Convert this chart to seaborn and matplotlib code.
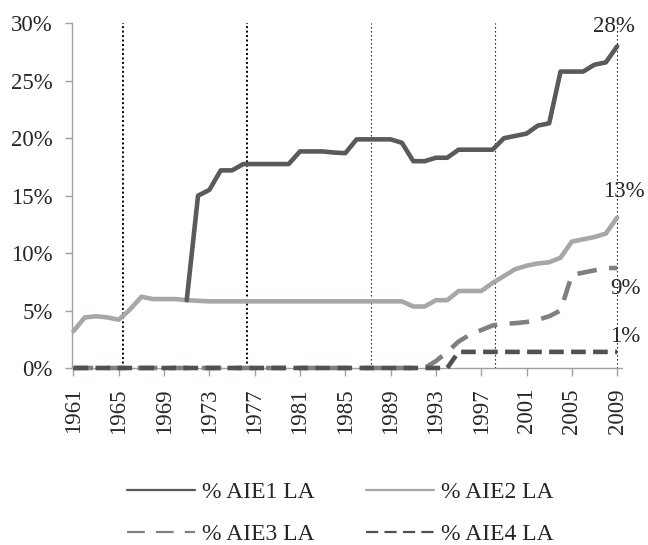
# =========================================
# 1. IMPORT
# =========================================

import numpy as np
import pandas as pd

import matplotlib.pyplot as plt
import seaborn as sns
from matplotlib.lines import Line2D
from matplotlib.ticker import FuncFormatter

sns.set_theme(style="ticks")
plt.rcParams["font.family"] = ["Liberation Serif", "DejaVu Serif"]

# =========================================
# 2. DATA (% of land area)
# =========================================

years = list(range(1961, 2010))

aie1 = [np.nan] * 10 + [
    5.9, 15.0, 15.5, 17.2, 17.2, 17.75, 17.75, 17.75, 17.75, 17.75,
    18.85, 18.85, 18.85, 18.75, 18.7, 19.9, 19.9, 19.9, 19.9, 19.6,
    18.0, 18.0, 18.3, 18.3, 19.0, 19.0, 19.0, 19.0, 20.0, 20.2,
    20.4, 21.1, 21.3, 25.8, 25.8, 25.8, 26.4, 26.6, 28.0
]

aie2 = [
    3.2, 4.4, 4.5, 4.4, 4.2, 5.1, 6.2, 6.0, 6.0, 6.0,
    5.9, 5.85, 5.8, 5.8, 5.8, 5.8, 5.8, 5.8, 5.8, 5.8,
    5.8, 5.8, 5.8, 5.8, 5.8, 5.8, 5.8, 5.8, 5.8, 5.8,
    5.35, 5.35, 5.9, 5.9, 6.7, 6.7, 6.7, 7.4, 8.0, 8.6,
    8.9, 9.1, 9.2, 9.6, 11.0, 11.2, 11.4, 11.7, 13.1
]

aie3 = [0.0] * 32 + [
    0.6, 1.4, 2.3, 2.9, 3.3, 3.7, 3.85, 3.9, 4.0, 4.2,
    4.5, 5.0, 8.1, 8.3, 8.5, 8.7, 8.7
]

aie4 = [0.0] * 34 + [1.4] * 15

labels = ["% AIE1 LA", "% AIE2 LA", "% AIE3 LA", "% AIE4 LA"]

# vertical dotted reference lines
ref_years = [1965.4, 1976.3, 1987.3, 1998.2, 2009.0]

# =========================================
# 3. FIGURE
# =========================================

fig = plt.figure(figsize=(6.48, 5.45), dpi=100)
ax = fig.add_axes([0.1116, 0.3248, 0.8478, 0.6324])

for i, xr in enumerate(ref_years):
    if i < 2:
        ax.axvline(xr, color="black", linewidth=1.4,
                   linestyle=(0, (1, 1.3)), zorder=1)
    else:
        ax.axvline(xr, color="black", linewidth=0.8,
                   linestyle=(0, (1.2, 2.4)), zorder=1)

# ---------- lines ----------
styles = [
    (aie2, "#a6a8a8", "-"),
    (aie1, "#575b5d", "-"),
    (aie3, "#7e8182", (0, (4.3, 2.7))),
    (aie4, "#4e5253", (0, (3.2, 1.6))),
]

for vals, col, ls in styles:
    sns.lineplot(
        x=years,
        y=vals,
        ax=ax,
        color=col,
        linewidth=3.3,
        linestyle=ls,
        dash_capstyle="butt",
        errorbar=None,
        legend=False,
        clip_on=False,
        zorder=3
    )

# ---------- end labels ----------
ends = [
    (aie1, (-2.5, 14.5)),
    (aie2, (5, 19)),
    (aie3, (6, -14.5)),
    (aie4, (6, 11)),
]

for vals, off in ends:
    ax.annotate(
        f"{round(vals[-1])}%",
        xy=(years[-1], vals[-1]),
        xytext=off,
        textcoords="offset points",
        ha="center",
        va="center",
        fontsize=16.5
    )

# ---------- axes ----------
ax.set_xlim(1960.9, 2009.4)
ax.set_ylim(0, 30)

ax.set_xticks(years[::4])
ax.set_yticks(range(0, 31, 5))
ax.yaxis.set_major_formatter(FuncFormatter(lambda v, p: f"{int(v)}%"))

ax.tick_params(axis="x", length=5.5, width=1, color="#a0a0a0",
               pad=9, labelsize=16.5, rotation=90)
ax.tick_params(axis="y", length=5, width=1, color="#a0a0a0",
               pad=9, labelsize=16.5)

for s in ["top", "right"]:
    ax.spines[s].set_visible(False)
for s in ["left", "bottom"]:
    ax.spines[s].set_color("#a0a0a0")
    ax.spines[s].set_linewidth(1)

ax.set_xlabel("")
ax.set_ylabel("")

# ---------- legend ----------
h1 = Line2D([], [], color="#575b5d", linewidth=1.6)
h2 = Line2D([], [], color="#a6a8a8", linewidth=1.6)
h3 = Line2D([], [], color="#7e8182", linewidth=1.6, linestyle=(0, (8, 5)))
h4 = Line2D([], [], color="#4e5253", linewidth=1.6, linestyle=(0, (5.5, 2.8)))

fig.legend(
    [h1, h3, h2, h4],
    [labels[0], labels[2], labels[1], labels[3]],
    loc="center",
    bbox_to_anchor=(0.525, 0.058),
    ncol=2,
    frameon=False,
    fontsize=17,
    handlelength=2.88,
    handletextpad=0.3,
    columnspacing=2.2,
    labelspacing=0.85,
    borderpad=0.2
)

fig.savefig("out.png", dpi=100)
